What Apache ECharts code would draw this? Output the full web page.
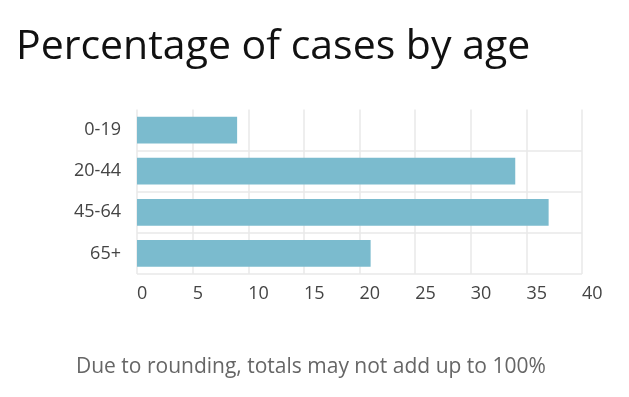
<!DOCTYPE html>
<html>
<head>
<meta charset="utf-8">
<script src="https://cdn.jsdelivr.net/npm/echarts@6/dist/echarts.min.js"></script>
<style>html,body{margin:0;padding:0;background:#fff;}#c{width:629px;height:397px;}</style>
</head>
<body>
<div id="c"></div>
<script>
const categories = ['0-19', '20-44', '45-64', '65+'];
const values = [9, 34, 37, 21];
const xTicks = [0, 5, 10, 15, 20, 25, 30, 35, 40];
const titleText = 'Percentage of cases by age';
const noteText = 'Due to rounding, totals may not add up to 100%';

const chart = echarts.init(document.getElementById('c'), null, {renderer: 'canvas'});
chart.setOption({
  animation: false,
  backgroundColor: '#fff',
  title: [{
    text: titleText,
    left: 16, top: 27, padding: 0,
    textStyle: {fontFamily: 'Open Sans', fontSize: 41, fontWeight: 'normal', color: '#111'}
  }, {
    text: noteText,
    left: 76, top: 357, padding: 0,
    textStyle: {fontFamily: 'Open Sans', fontSize: 21, fontWeight: 'normal', color: '#666'}
  }],
  grid: {left: 137, right: 47, top: 109.5, bottom: 123, containLabel: false},
  xAxis: {
    type: 'value', min: 0, max: 40, interval: 5,
    axisLine: {show: false}, axisTick: {show: false},
    axisLabel: {align: 'left', margin: 11, fontFamily: 'Open Sans', fontSize: 18, color: '#444',
      formatter: v => xTicks.includes(v) ? String(v) : ''},
    splitLine: {show: true, lineStyle: {color: '#e9e9e9', width: 1.5}}
  },
  yAxis: {
    type: 'category', data: categories, inverse: true,
    axisLine: {show: false}, axisTick: {show: false},
    axisLabel: {margin: 16, fontFamily: 'Open Sans', fontSize: 18, color: '#444'},
    splitLine: {show: true, showMinLine: false, lineStyle: {color: '#e9e9e9', width: 1.5}}
  },
  series: [{
    type: 'bar', data: values, barWidth: '65%',
    itemStyle: {color: '#7bbbce'}
  }]
});
</script>
</body>
</html>
